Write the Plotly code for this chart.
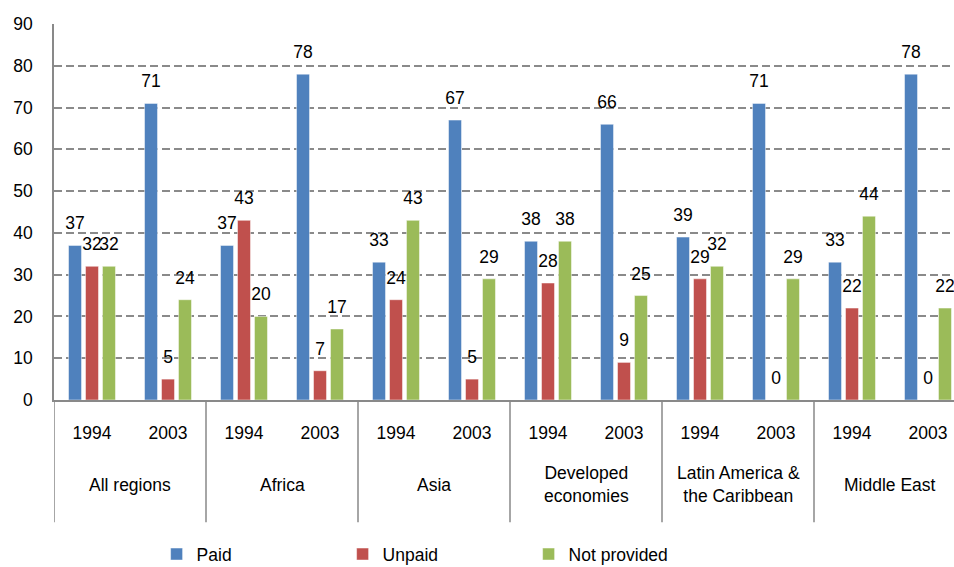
import plotly.graph_objects as go

regions = ["All regions", "Africa", "Asia", "Developed<br>economies",
           "Latin America &<br>the Caribbean", "Middle East"]
years = ["1994", "2003"]
paid = [37, 71, 37, 78, 33, 67, 38, 66, 39, 71, 33, 78]
unpaid = [32, 5, 43, 7, 24, 5, 28, 9, 29, 0, 22, 0]
not_provided = [32, 24, 20, 17, 43, 29, 38, 25, 32, 29, 44, 22]
series_names = ["Paid", "Unpaid", "Not provided"]
colors = ["#4F81BD", "#C0504D", "#9BBB59"]
y_ticks = [0, 10, 20, 30, 40, 50, 60, 70, 80, 90]

FONT = "Liberation Sans, Arial, sans-serif"
FS = 17.5
n = len(regions) * len(years)
xpos = list(range(n))
year_labels = [years[i % 2] for i in range(n)]

fig = go.Figure()
for k, (name, vals, col) in enumerate(zip(series_names, [paid, unpaid, not_provided], colors)):
    fig.add_trace(go.Bar(
        x=xpos, y=vals, name=name, offsetgroup=str(k),
        marker=dict(color=col, line=dict(color="rgba(255,255,255,0.6)", width=0.8)),
        hoverinfo="skip",
    ))
for k, vals in enumerate([paid, unpaid, not_provided]):
    fig.add_trace(go.Scatter(
        x=xpos, y=vals, mode="markers+text", offsetgroup=str(k),
        marker=dict(size=17, opacity=0, color="white"),
        text=[str(v) for v in vals], textposition="top center",
        textfont=dict(family=FONT, size=FS, color="#000"),
        showlegend=False, cliponaxis=False, hoverinfo="skip",
    ))

shapes = []
for i in range(len(regions) + 1):
    xv = 2 * i - 0.5
    shapes.append(dict(type="line", xref="x", yref="paper", x0=xv, x1=xv,
                       y0=0, y1=-0.325, line=dict(color="#898989", width=1.5)))

annotations = []
for i, r in enumerate(regions):
    annotations.append(dict(x=2 * i + 0.5, xref="x", y=-0.225, yref="paper",
                            text=r, showarrow=False, xanchor="center", yanchor="middle",
                            font=dict(family=FONT, size=FS, color="#000")))

fig.update_layout(
    width=954, height=567,
    margin=dict(l=54, r=0, t=24, b=167, autoexpand=False),
    paper_bgcolor="white", plot_bgcolor="white",
    barmode="group", bargap=0.33, bargroupgap=0.235,
    scattermode="group", scattergap=0.33,
    font=dict(family=FONT, size=FS, color="#000"),
    xaxis=dict(range=[-0.5, -0.5 + 900 / 76], tickmode="array", tickvals=xpos,
               ticktext=year_labels, ticks="", showgrid=False, zeroline=False,
               showline=True, linecolor="#898989", linewidth=1.5,
               ticklabelstandoff=16, tickfont=dict(family=FONT, size=FS)),
    yaxis=dict(range=[0, 90], tickvals=y_ticks, ticks="", showgrid=True,
               gridcolor="#8a8a8a", griddash="8px,4px", gridwidth=1.5,
               zeroline=False, showline=True, linecolor="#898989", linewidth=1.5,
               tickfont=dict(family=FONT, size=FS), ticklabelstandoff=16),
    shapes=shapes, annotations=annotations,
    legend=dict(orientation="h", x=0.114, xanchor="left", y=-0.41, yanchor="middle",
                entrywidth=141, font=dict(family=FONT, size=FS), itemwidth=30),
)

fig.write_html("out.html", config={"displayModeBar": False},
               post_script="document.body.style.margin='0';")
